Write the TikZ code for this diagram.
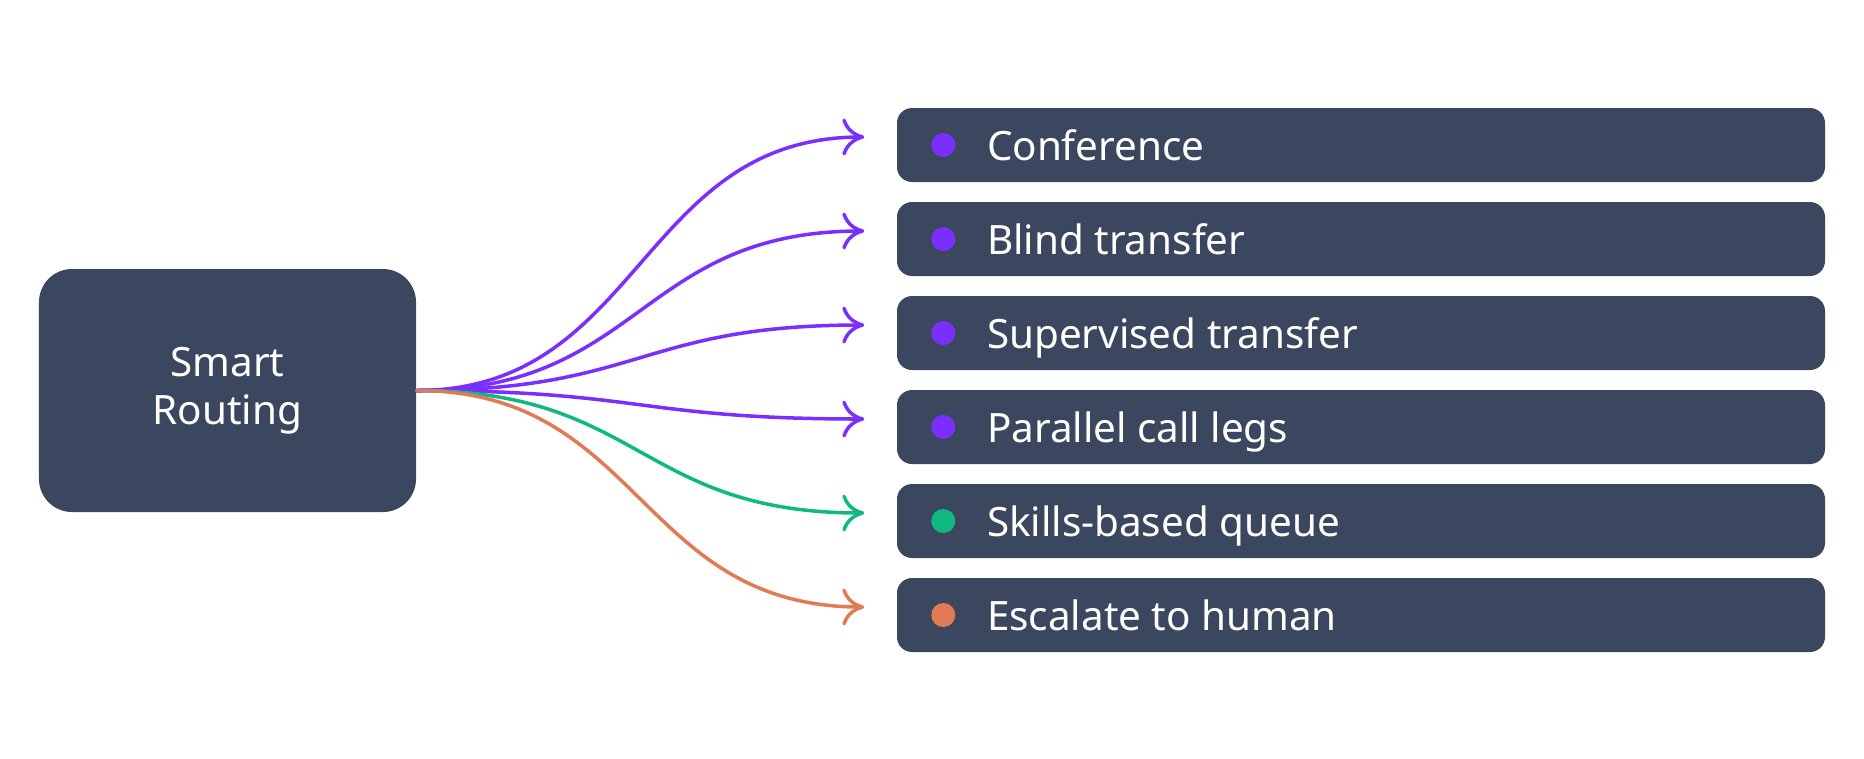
\documentclass[tikz,border=0pt]{standalone}
\usepackage{fontspec}
\setmainfont{Noto Sans}
\usetikzlibrary{arrows.meta, positioning}
\definecolor{slateBox}{RGB}{58, 71, 95}
\definecolor{routePurple}{RGB}{123, 47, 255}
\definecolor{routeGreen}{RGB}{16, 185, 129}
\definecolor{routeOrange}{RGB}{224, 123, 83}
\tikzset{
    hub/.style={fill=slateBox, rounded corners=0.33cm, minimum width=3.77cm, minimum height=2.43cm,
        text=white, align=center, font=\fontsize{11.5}{13.7}\selectfont},
    option/.style={fill=slateBox, rounded corners=0.15cm, minimum width=9.28cm, minimum height=0.74cm},
    option text/.style={text=white, anchor=base west, inner sep=0pt, font=\fontsize{11.5}{13.7}\selectfont},
    dot/.style={circle, inner sep=0pt, minimum size=0.24cm},
    route/.style={line width=1pt, line cap=round, -{Computer Modern Rightarrow[length=0.22cm, width=0.37cm]}}
}
\begin{document}
\begin{tikzpicture}
    % Fix the canvas to the reference proportions
    \useasboundingbox (0,0) rectangle (18.64,-7.58);

    % Central routing box
    \node[hub] (router) at (2.275,-3.905) {Smart\\Routing};

    % Options on the right, each with a coloured dot and a curved connector
    \foreach \i/\txt/\col in {1/Conference/routePurple, 2/Blind transfer/routePurple,
        3/Supervised transfer/routePurple, 4/Parallel call legs/routePurple,
        5/Skills-based queue/routeGreen, 6/Escalate to human/routeOrange} {
        \node[option] (opt\i) at (13.61,{-1.45-0.94*(\i-1)}) {};
        \node[dot, fill=\col] (dot\i) at ([xshift=0.47cm]opt\i.west) {};
        \node[option text] (lbl\i) at ([xshift=0.9cm, yshift=-0.15cm]opt\i.west) {\txt};
        \coordinate (tip\i) at ([xshift=-0.32cm, yshift=0.08cm]opt\i.west);
        \draw[route, \col] (router.east) .. controls +(2.25,0) and +(-2.25,0) .. (tip\i);
    }
\end{tikzpicture}
\end{document}
